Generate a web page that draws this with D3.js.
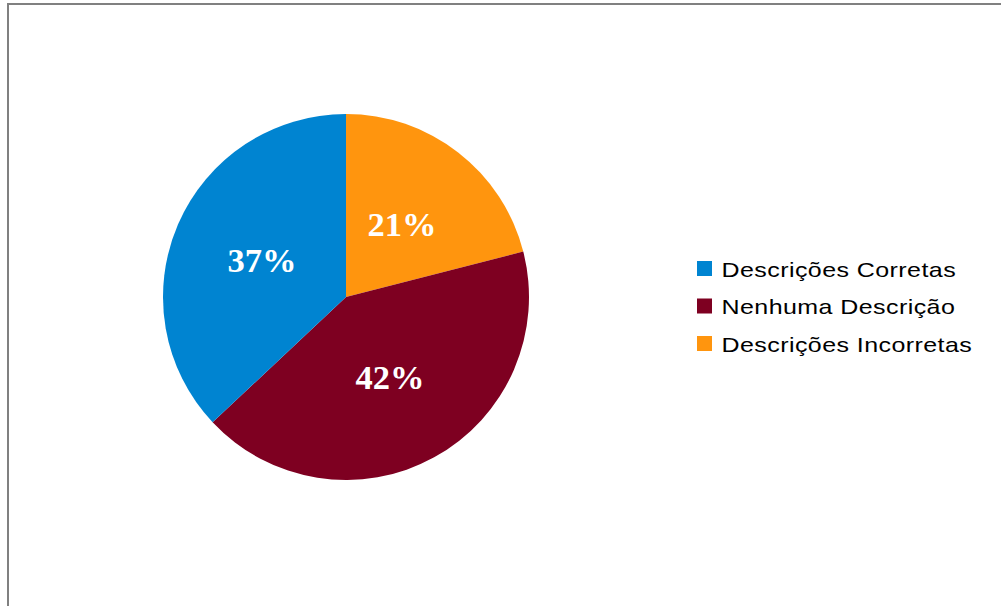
<!DOCTYPE html>
<html>
<head>
<meta charset="utf-8">
<script src="https://cdn.jsdelivr.net/npm/d3@7"></script>
<style>
  html, body { margin: 0; padding: 0; background: #fff; }
  svg { display: block; }
</style>
</head>
<body>
<svg id="chart" width="1001" height="606"></svg>
<script>
// Chart data
const categories = ["Descrições Corretas", "Nenhuma Descrição", "Descrições Incorretas"];
const values = [37, 42, 21];
const colors = ["#0084d1", "#7e0021", "#ff950e"];
// Drawing order around the pie, clockwise from 12 o'clock
const sliceOrder = [2, 1, 0];

const svg = d3.select("#chart");

// Outer frame (continues beyond the right and bottom edges)
svg.append("rect")
  .attr("x", 8).attr("y", 4)
  .attr("width", 1100).attr("height", 700)
  .attr("fill", "none")
  .attr("stroke", "#808080")
  .attr("stroke-width", 2);

const cx = 346, cy = 297, radius = 183;

const slices = sliceOrder.map(i => ({ name: categories[i], value: values[i], color: colors[i] }));

const pie = d3.pie().value(d => d.value).sort(null);
const arc = d3.arc().innerRadius(0).outerRadius(radius);
const labelArc = d3.arc().innerRadius(radius * 0.5).outerRadius(radius * 0.5);

const g = svg.append("g").attr("transform", `translate(${cx},${cy})`);
const arcs = pie(slices);

g.selectAll("path.slice")
  .data(arcs)
  .join("path")
  .attr("class", "slice")
  .attr("d", arc)
  .attr("fill", d => d.data.color);

g.selectAll("text.pct")
  .data(arcs)
  .join("text")
  .attr("class", "pct")
  .attr("transform", d => `translate(${labelArc.centroid(d)})`)
  .attr("text-anchor", "middle")
  .attr("dy", "0.34em")
  .attr("fill", "#fff")
  .attr("font-family", "'Liberation Serif', 'Times New Roman', serif")
  .attr("font-weight", "bold")
  .attr("font-size", 34.5)
  .text(d => d3.format(".0%")(d.data.value / 100));

// Legend
const legend = svg.append("g").attr("transform", "translate(697,261)");
const rowH = 37.5;
const items = legend.selectAll("g.item")
  .data(categories.map((c, i) => ({ name: c, color: colors[i] })))
  .join("g")
  .attr("class", "item")
  .attr("transform", (d, i) => `translate(0,${i * rowH})`);

items.append("rect")
  .attr("width", 15).attr("height", 15)
  .attr("fill", d => d.color);

// Legend labels use a slightly widened face
items.append("text")
  .attr("transform", "translate(24.5,15.5) scale(1.22,1)")
  .attr("fill", "#000")
  .attr("font-family", "'Liberation Sans', Arial, sans-serif")
  .attr("font-size", 20.5)
  .attr("letter-spacing", 0.35)
  .text(d => d.name);
</script>
</body>
</html>
